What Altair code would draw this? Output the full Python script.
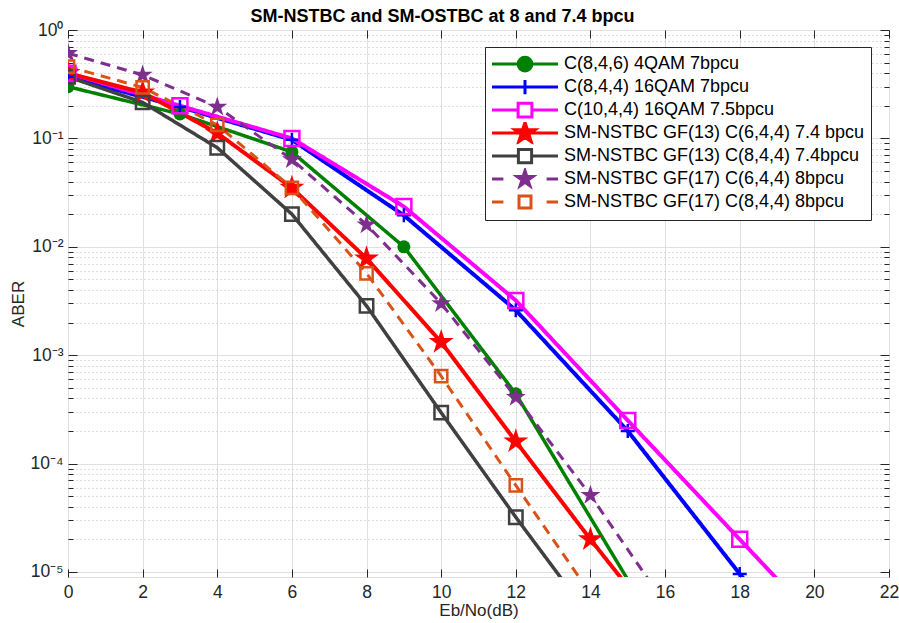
import altair as alt
import pandas as pd

# ---------------- data ----------------
SERIES = [
    "C(8,4,6) 4QAM 7bpcu",
    "C(8,4,4) 16QAM 7bpcu",
    "C(10,4,4) 16QAM 7.5bpcu",
    "SM-NSTBC GF(13) C(6,4,4) 7.4 bpcu",
    "SM-NSTBC GF(13) C(8,4,4) 7.4bpcu",
    "SM-NSTBC GF(17) C(6,4,4) 8bpcu",
    "SM-NSTBC GF(17) C(8,4,4) 8bpcu",
]

x_green = [0, 3, 6, 9, 12, 15]
y_green = [0.30, 0.168, 0.075, 0.0100, 4.4e-4, 8.5e-6]

x_blue = [0, 3, 6, 9, 12, 15, 18, 21]
y_blue = [0.37, 0.195, 0.097, 0.0195, 2.6e-3, 2.0e-4, 9.6e-6, 5e-7]

x_magenta = [0, 3, 6, 9, 12, 15, 18, 21]
y_magenta = [0.40, 0.20, 0.100, 0.0235, 3.2e-3, 2.5e-4, 2.0e-5, 1.6e-6]

x_red = [0, 2, 4, 6, 8, 10, 12, 14, 16]
y_red = [0.40, 0.265, 0.112, 0.035, 0.0078, 1.32e-3, 1.6e-4, 2.0e-5, 2.7e-6]

x_black = [0, 2, 4, 6, 8, 10, 12, 14]
y_black = [0.37, 0.215, 0.082, 0.020, 2.85e-3, 2.95e-4, 3.2e-5, 3.8e-6]

x_purple = [0, 2, 4, 6, 8, 10, 12, 14, 16]
y_purple = [0.61, 0.385, 0.195, 0.064, 0.016, 3.0e-3, 4.1e-4, 5.1e-5, 5.1e-6]

x_orange = [0, 2, 4, 6, 8, 10, 12, 14]
y_orange = [0.46, 0.295, 0.133, 0.035, 5.7e-3, 6.4e-4, 6.3e-5, 6.3e-6]

X_TICKS = list(range(0, 23, 2))
Y_MAJOR = [1e-5, 1e-4, 1e-3, 1e-2, 1e-1, 1.0]

XS = [x_green, x_blue, x_magenta, x_red, x_black, x_purple, x_orange]
YS = [y_green, y_blue, y_magenta, y_red, y_black, y_purple, y_orange]

rows = []
for name, xs, ys in zip(SERIES, XS, YS):
    for xv, yv in zip(xs, ys):
        rows.append({"series": name, "ebno": xv, "aber": yv})
df = pd.DataFrame(rows)

# ---------------- styles ----------------
YMIN = 8.99e-6
W, H = 821, 547
COLORS = ["#008000", "#0000FF", "#FF00FF", "#FF0000", "#404040", "#7E2F8E", "#D95319"]
WIDTHS = [3.5, 4, 4, 4, 3.5, 3, 3]
DASHES = [[1, 0], [1, 0], [1, 0], [1, 0], [1, 0], [10, 7], [10, 7]]
STAR = "M0,-1L0.2245,-0.309L0.951,-0.309L0.363,0.118L0.588,0.809L0,0.382L-0.588,0.809L-0.363,0.118L-0.951,-0.309L-0.2245,-0.309Z"
PLUS = "M-1,0H1M0,-1V1"
SHAPES = ["circle", PLUS, "square", STAR, "square", STAR, "square"]
SIZES = [169, 196, 225, 690, 180, 440, 150]
FILLED_SERIES = [SERIES[0], SERIES[3], SERIES[5]]
OPEN_SERIES = [SERIES[1], SERIES[2], SERIES[4], SERIES[6]]


def star(r):
    pts = [(0, -1), (0.2245, -0.309), (0.951, -0.309), (0.363, 0.118), (0.588, 0.809),
           (0, 0.382), (-0.588, 0.809), (-0.363, 0.118), (-0.951, -0.309), (-0.2245, -0.309)]
    return "M" + "L".join(f"{px*r:.3f},{py*r:.3f}" for px, py in pts) + "Z"


def sq(h):
    return f"M{-h},{-h}H{h}V{h}H{-h}Z"


def circ(r):
    return f"M{-r},0A{r},{r},0,1,1,{r},0A{r},{r},0,1,1,{-r},0Z"


L = 5.5
SOLID = f"M{-L},0H{L}"
DASHED = f"M{-L},0H-3.6M3.6,0H{L}"
LEG_SHAPES = [
    SOLID + circ(1.15),
    SOLID + "M0,-1.2V1.2",
    f"M{-L},0H-1.15M1.15,0H{L}" + sq(1.15),
    SOLID + star(1.8),
    f"M{-L},0H-1.1M1.1,0H{L}" + sq(1.1),
    DASHED + star(1.4),
    DASHED + sq(1.0),
]
LEG_FILLS = [COLORS[0], "transparent", "transparent", COLORS[3], "transparent", COLORS[5], "transparent"]

FONT = "Liberation Sans"
TXT = "#262626"

xscale = alt.Scale(domain=[0, 22], nice=False, zero=False)
yscale = alt.Scale(type="log", domain=[YMIN, 1], nice=False)

y_minor = [m * 10.0 ** k for k in range(-5, 0) for m in range(2, 10)]

label_expr = "'10' + ['\u2070','\u207b\u00b9','\u207b\u00b2','\u207b\u00b3','\u207b\u2074','\u207b\u2075','\u207b\u2076'][round(-log(datum.value)/LN10)]"

x_main = alt.Axis(values=X_TICKS, grid=True, gridColor="#e0e0e0", ticks=False, domain=False,
                  labelFontSize=17.5, labelColor=TXT, labelFont=FONT, labelPadding=6, labelFlush=False,
                  title="Eb/No(dB)", titleFontSize=17, titleFont=FONT, titleFontWeight="normal",
                  titleColor=TXT, titlePadding=2, orient="bottom")
y_main = alt.Axis(values=Y_MAJOR, grid=True, gridColor="#e0e0e0", ticks=False, domain=False,
                  labelExpr=label_expr, labelFontSize=17.5, labelColor=TXT, labelFont=FONT,
                  labelPadding=5, labelFlush=False, title="ABER", titleFontSize=17, titleFont=FONT,
                  titleFontWeight="normal", titleColor=TXT, titlePadding=3, orient="left")


def tick_axis(orient, values, size, offset, grid=False):
    kw = dict(values=values, orient=orient, offset=offset, labels=False, domain=False, ticks=True,
              tickSize=size, tickColor=TXT, tickWidth=1, title=None, grid=grid)
    if grid:
        kw.update(gridColor="#bdbdbd", gridDash=[1, 3], gridWidth=1)
    return alt.Axis(**kw)


color = alt.Color("series:N", scale=alt.Scale(domain=SERIES, range=COLORS), legend=None)

lines = alt.Chart(df).mark_line(clip=True).encode(
    x=alt.X("ebno:Q", scale=xscale, axis=x_main),
    y=alt.Y("aber:Q", scale=yscale, axis=y_main),
    color=color,
    strokeWidth=alt.StrokeWidth("series:N", scale=alt.Scale(type="ordinal", domain=SERIES, range=WIDTHS), legend=None),
    strokeDash=alt.StrokeDash("series:N", scale=alt.Scale(type="ordinal", domain=SERIES, range=DASHES), legend=None),
    detail="series:N",
)

shape = alt.Shape("series:N", scale=alt.Scale(domain=SERIES, range=SHAPES), legend=None)
size = alt.Size("series:N", scale=alt.Scale(type="ordinal", domain=SERIES, range=SIZES), legend=None)

pts_filled = alt.Chart(df).transform_filter(
    alt.FieldOneOfPredicate(field="series", oneOf=FILLED_SERIES)
).transform_filter(alt.datum.aber >= YMIN).mark_point(filled=True, opacity=1, clip=True).encode(
    x=alt.X("ebno:Q", scale=xscale, axis=tick_axis("top", X_TICKS, 8, -H)),
    y=alt.Y("aber:Q", scale=yscale, axis=tick_axis("right", Y_MAJOR, 9, -W)),
    color=color, shape=shape, size=size,
)

pts_open = alt.Chart(df).transform_filter(
    alt.FieldOneOfPredicate(field="series", oneOf=OPEN_SERIES)
).transform_filter(alt.datum.aber >= YMIN).mark_point(filled=False, opacity=1, strokeWidth=2.5, clip=True).encode(
    x=alt.X("ebno:Q", scale=xscale, axis=tick_axis("bottom", X_TICKS, 8, -H)),
    y=alt.Y("aber:Q", scale=yscale, axis=tick_axis("right", y_minor, 5, -W, grid=True)),
    color=color, shape=shape, size=size,
)

leg_df = pd.DataFrame({"series": SERIES, "ebno": [0.0] * len(SERIES), "aber": [1e-9] * len(SERIES)})
legend = alt.Legend(title=None, orient="none", legendX=417, legendY=17, fillColor="white",
                    strokeColor="#262626", padding=6, symbolSize=144, symbolStrokeWidth=3,
                    symbolOffset=25, labelOffset=30, labelFont=FONT, labelFontSize=18,
                    labelColor="black", rowPadding=0, clipHeight=22.2, zindex=2, labelLimit=500,
                    symbolOpacity=1)

leg_layer = alt.Chart(leg_df).mark_point(filled=True, size=144, strokeWidth=3, opacity=1, clip=True).encode(
    x=alt.X("ebno:Q", scale=xscale, axis=None),
    y=alt.Y("aber:Q", scale=yscale, axis=tick_axis("left", Y_MAJOR, 9, -W)),
    shape=alt.Shape("series:N", scale=alt.Scale(domain=SERIES, range=LEG_SHAPES), legend=legend),
    stroke=alt.Stroke("series:N", scale=alt.Scale(domain=SERIES, range=COLORS), legend=legend),
    fill=alt.Fill("series:N", scale=alt.Scale(domain=SERIES, range=LEG_FILLS), legend=legend),
)

axis_layer = alt.Chart(leg_df).mark_point(clip=True, opacity=0).encode(
    x=alt.X("ebno:Q", scale=xscale, axis=None),
    y=alt.Y("aber:Q", scale=yscale, axis=tick_axis("left", y_minor, 5, -W)),
)

chart = alt.layer(lines, pts_filled, pts_open, leg_layer, axis_layer).resolve_scale(
    shape="independent", stroke="independent", fill="independent"
).resolve_axis(x="independent", y="independent").properties(
    width=W, height=H,
    padding={"left": 68, "top": 30, "right": 10, "bottom": 46},
    autosize=alt.AutoSizeParams(type="none"),
    title=alt.Title("SM-NSTBC and SM-OSTBC at 8 and 7.4 bpcu", fontSize=18, fontWeight="bold",
                    font=FONT, color="black", anchor="middle", dx=-36, dy=11, offset=6),
).configure_view(stroke="#262626", strokeWidth=1.2).configure(background="white")

chart.save("out.html", embed_options={"renderer": "svg", "actions": False})
